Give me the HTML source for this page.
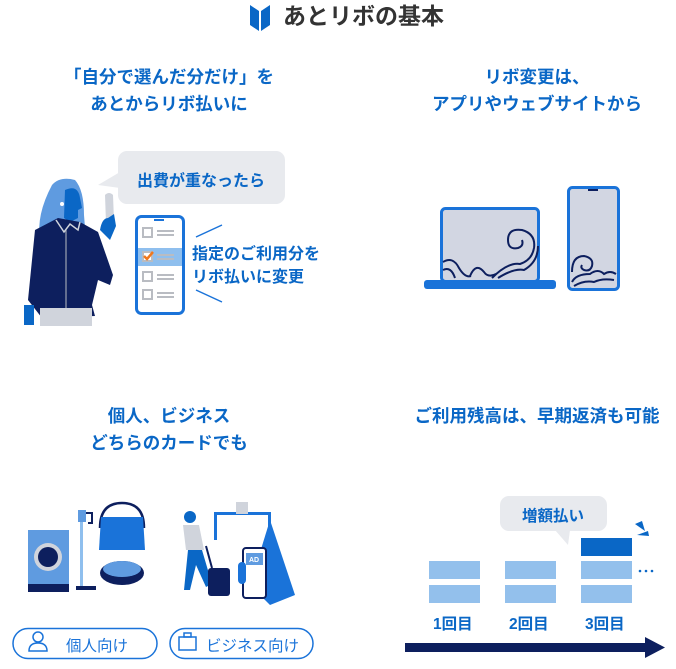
<!DOCTYPE html>
<html><head><meta charset="utf-8"><style>
body{margin:0;width:676px;height:669px;background:#fff;position:relative;overflow:hidden;font-family:"Liberation Sans","Noto Sans CJK JP",sans-serif;}
.a{position:absolute}
.h{position:absolute;color:#0a67c6;font-weight:bold;font-size:17.5px;line-height:27px;text-align:center;width:338px}
.b{position:absolute;color:#0a67c6;font-weight:bold;font-size:15.5px}
</style></head><body>
<svg class="a" style="left:0;top:0" width="676" height="669">
<path d="M250 5 L259 11 L259 31 L250 25Z" fill="#0a67c6"/><path d="M261 11 L270 5 L270 25 L261 31Z" fill="#0a67c6"/>
<rect x="118" y="151" width="167" height="53" rx="9" fill="#e8eaee"/><path d="M120 172 L98 185 L120 188Z" fill="#e8eaee"/>
<path d="M52 185 Q60 176 75 180 Q84 190 84 215 L86 240 L40 240 Q36 215 52 185Z" fill="#5f9be0"/>
<path d="M65 190 Q78 184 80 198 L82 208 L78 210 L78 218 L70 222 L64 218Z" fill="#0a67c6"/>
<circle cx="62" cy="204" r="2" fill="#fff"/>
<path d="M35 230 L58 218 L80 222 L98 232 L113 275 L110 285 L98 280 L92 305 L95 316 L42 318 L28 300 Z" fill="#0d1f5e"/>
<path d="M56 220 l8 12 l6 -8 l8 6 l2 -8" stroke="#d0d4dc" stroke-width="1.5" fill="none"/>
<path d="M66 230 L66 315" stroke="#b9bcc2" stroke-width="1"/>
<rect x="40" y="308" width="52" height="18" fill="#d0d4dc"/>
<rect x="24" y="305" width="10" height="20" fill="#0a67c6"/>
<path d="M105 195 q4 -4 8 0 l1 26 l-8 2Z" fill="#d0d4dc"/>
<path d="M100 230 q2 -12 8 -12 l6 -4 l2 12 l-6 14Z" fill="#0a67c6"/>
<rect x="136.5" y="216.5" width="47" height="97" rx="5" fill="#fff" stroke="#1a73d9" stroke-width="3"/>
<rect x="138" y="248" width="44" height="18" fill="#8fbfee"/>
<rect x="154" y="219" width="10" height="2" fill="#1a73d9"/>
<g stroke="#b9bcc2" stroke-width="2" fill="none">
<rect x="143" y="228" width="9" height="9"/><rect x="143" y="272" width="9" height="9"/><rect x="143" y="290" width="9" height="9"/>
<path d="M157 231h17M157 235h17M157 275h17M157 279h17M157 293h17M157 297h17M157 255h17M157 259h17"/></g>
<rect x="143" y="252" width="9" height="9" fill="#fff" stroke="#b9bcc2" stroke-width="2"/>
<path d="M144 256 l3 3 l6 -7" stroke="#f0781e" stroke-width="2.5" fill="none"/>
<path d="M196 237 L222 225 M196 290 L222 302" stroke="#1a73d9" stroke-width="1.5"/>
<rect x="441.5" y="208.5" width="97" height="73" rx="4" fill="#d2d6e2" stroke="#1a73d9" stroke-width="3"/>
<rect x="424" y="280" width="132" height="9" rx="3" fill="#1a73d9"/>
<g stroke="#0d1f5e" stroke-width="2" fill="none">
<path d="M443 262 q10 -6 16 6 q6 10 12 8 M443 270 q8 -4 12 8 M470 276 q6 -14 14 -4 q4 6 12 2"/>
<path d="M492 278 q16 -16 28 -14 q12 -4 14 -16 q2 -14 -12 -18 q-14 -2 -14 10 q0 10 10 8 q6 -2 4 -8"/>
<path d="M498 278 q16 -10 26 -8 q14 -8 14 -24"/>
</g>
<rect x="568.5" y="187.5" width="50" height="102" rx="4" fill="#d2d6e2" stroke="#1a73d9" stroke-width="3"/>
<rect x="588" y="189" width="10" height="2" fill="#0d1f5e"/>
<g stroke="#0d1f5e" stroke-width="2" fill="none">
<path d="M572 272 q0 -16 12 -16 q10 2 8 10 q-2 6 -8 4 q-4 -2 -2 -5"/>
<path d="M572 282 q4 -8 18 -8 q8 -6 14 0 q6 -4 12 0"/>
<path d="M574 286 q10 -6 20 -4 q8 -4 20 -2"/>
</g>
<rect x="28" y="530" width="41" height="55" fill="#5f9be0"/><rect x="28" y="584" width="41" height="8" fill="#0d1f5e"/>
<circle cx="48" cy="557" r="14" fill="#d0d4dc"/><circle cx="48" cy="557" r="10" fill="#0d1f5e"/>
<rect x="80" y="512" width="3" height="75" fill="#8fbfee"/><rect x="76" y="586" width="20" height="4" fill="#0d1f5e"/><rect x="78" y="510" width="8" height="12" fill="#5f9be0"/>
<path d="M86 513 h6 v10 h-4" stroke="#0d1f5e" stroke-width="2" fill="none"/>
<path d="M100 528 Q100 503 122 503 Q144 503 144 528" stroke="#0d1f5e" stroke-width="2.5" fill="none"/>
<path d="M101 517 h42 l2 33 h-46Z" fill="#1a73d9"/>
<ellipse cx="122" cy="573" rx="22" ry="12" fill="#0d1f5e"/><ellipse cx="122" cy="569" rx="19" ry="8" fill="#5f9be0"/>
<circle cx="190" cy="517" r="6" fill="#0a67c6"/>
<path d="M183 525 h16 l5 25 h-18Z" fill="#d0d4dc"/>
<path d="M188 550 l-4 40 h6 l6 -25 l10 22 l6 -3 l-10 -34Z" fill="#0a67c6"/>
<rect x="208" y="568" width="22" height="28" rx="3" fill="#0d1f5e"/><path d="M212 568 l-6 -22" stroke="#0d1f5e" stroke-width="2"/>
<rect x="214" y="512" width="57" height="3" fill="#1a73d9"/><rect x="214" y="512" width="3" height="28" fill="#1a73d9"/><rect x="268" y="512" width="3" height="28" fill="#1a73d9"/>
<rect x="236" y="502" width="12" height="12" fill="#d0d4dc"/>
<path d="M270 520 L295 595 L270 605 L250 585Z" fill="#1a73d9"/>
<rect x="243" y="548" width="23" height="50" rx="3" fill="#fff" stroke="#0d1f5e" stroke-width="2"/>
<rect x="246" y="553" width="17" height="12" fill="#5f9be0"/><text x="249" y="562" font-size="7" fill="#fff" font-family="Liberation Sans" font-weight="bold">AD</text>
<rect x="238" y="562" width="8" height="22" rx="4" fill="#1a73d9"/>
<rect x="13" y="628.5" width="144" height="30" rx="15" fill="#fff" stroke="#1a73d9" stroke-width="1.5"/>
<rect x="170" y="628.5" width="143" height="30" rx="15" fill="#fff" stroke="#1a73d9" stroke-width="1.5"/>
<circle cx="38" cy="637" r="5" fill="none" stroke="#1a73d9" stroke-width="1.5"/><path d="M29 651 q0 -8 9 -8 q9 0 9 8Z" fill="none" stroke="#1a73d9" stroke-width="1.5"/>
<rect x="179" y="637" width="17" height="13" fill="none" stroke="#1a73d9" stroke-width="1.5"/><rect x="184" y="633" width="7" height="4" fill="none" stroke="#1a73d9" stroke-width="1.5"/>
<rect x="500" y="496" width="107" height="35" rx="9" fill="#e8eaee"/><path d="M555 530 L568 545 L570 530Z" fill="#e8eaee"/>
<g fill="#93c0ec"><rect x="429" y="561" width="51" height="18"/><rect x="429" y="585" width="51" height="18"/><rect x="505" y="561" width="51" height="18"/><rect x="505" y="585" width="51" height="18"/><rect x="581" y="561" width="51" height="18"/><rect x="581" y="585" width="51" height="18"/></g>
<rect x="581" y="538" width="51" height="18" fill="#0a67c6"/>
<path d="M635 524 l7 -3 l3 10Z M637 535 l11 -4 l1 5Z" fill="#0a67c6"/>
<g fill="#0a67c6"><circle cx="640" cy="571" r="1.3"/><circle cx="646" cy="571" r="1.3"/><circle cx="652" cy="571" r="1.3"/></g>
<rect x="405" y="643" width="242" height="9" fill="#0d1f5e"/><path d="M645 637 L665 647.5 L645 658Z" fill="#0d1f5e"/>
</svg>
<div class="a" style="left:283px;top:1px;font-size:23px;font-weight:bold;color:#333;line-height:30px">あとリボの基本</div>
<div class="h" style="left:0;top:64px">「自分で選んだ分だけ」を<br>あとからリボ払いに</div>
<div class="h" style="left:368px;top:64px">リボ変更は、<br>アプリやウェブサイトから</div>
<div class="h" style="left:0;top:403px">個人、ビジネス<br>どちらのカードでも</div>
<div class="h" style="left:368px;top:403px">ご利用残高は、早期返済も可能</div>
<div class="b" style="left:137px;top:167px;font-size:16px">出費が重なったら</div>
<div class="b" style="left:192px;top:243px;line-height:23px;font-size:16px">指定のご利用分を<br>リボ払いに変更</div>
<div class="b" style="left:66px;top:634px;color:#1a73d9;font-weight:normal">個人向け</div>
<div class="b" style="left:206px;top:634px;color:#1a73d9;font-weight:normal">ビジネス向け</div>
<div class="b" style="left:522px;top:504px">増額払い</div>
<div class="b" style="left:433px;top:612px">1回目</div>
<div class="b" style="left:509px;top:612px">2回目</div>
<div class="b" style="left:585px;top:612px">3回目</div>
</body></html>
